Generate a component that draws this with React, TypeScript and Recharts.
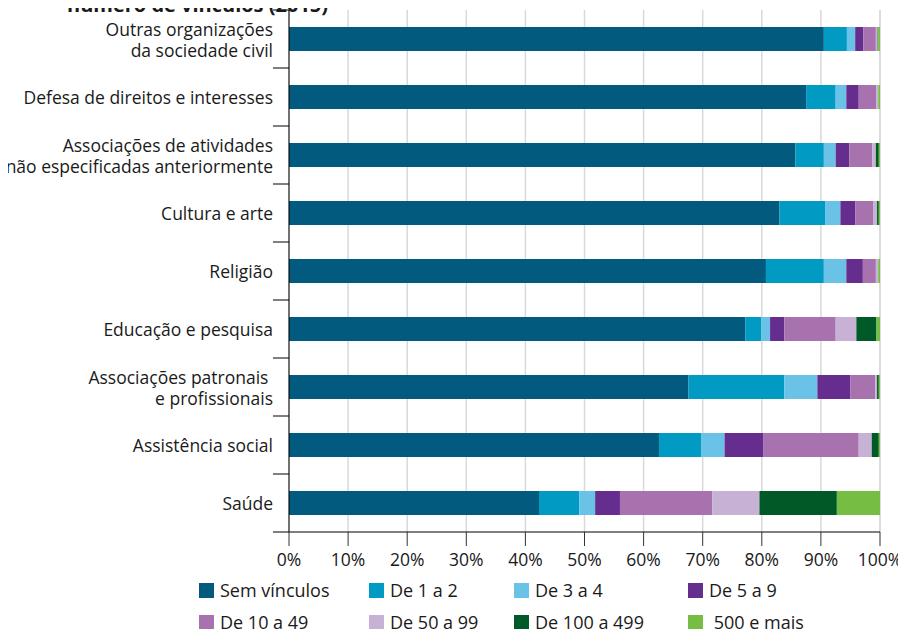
import { Bar, BarChart, CartesianGrid, XAxis, YAxis } from "recharts";

const categories = [
  "Outras organizações\nda sociedade civil",
  "Defesa de direitos e interesses",
  "Associações de atividades\nnão especificadas anteriormente",
  "Cultura e arte",
  "Religião",
  "Educação e pesquisa",
  "Associações patronais \ne profissionais",
  "Assistência social",
  "Saúde",
];

const semVinculos = [90.5, 87.5, 85.7, 83.0, 80.7, 77.2, 67.6, 62.6, 42.3];
const de1a2 = [3.9, 5.0, 4.8, 7.7, 9.8, 2.7, 16.2, 7.2, 6.8];
const de3a4 = [1.4, 1.8, 2.0, 2.6, 3.8, 1.5, 5.6, 3.9, 2.7];
const de5a9 = [1.4, 2.1, 2.3, 2.5, 2.8, 2.4, 5.6, 6.6, 4.2];
const de10a49 = [2.1, 3.0, 3.9, 3.1, 2.2, 8.7, 4.2, 16.1, 15.6];
const de50a99 = [0.3, 0.3, 0.6, 0.6, 0.4, 3.5, 0.3, 2.2, 8.0];
const de100a499 = [0.1, 0.0, 0.5, 0.3, 0.0, 3.4, 0.3, 1.2, 13.1];
const de500mais = [0.3, 0.3, 0.2, 0.2, 0.3, 0.6, 0.2, 0.2, 7.3];

const xTicks = [0, 10, 20, 30, 40, 50, 60, 70, 80, 90, 100];

const series = [
  { key: "sem", name: "Sem vínculos", values: semVinculos, color: "#025B7E" },
  { key: "d1", name: "De 1 a 2", values: de1a2, color: "#009AC3" },
  { key: "d3", name: "De 3 a 4", values: de3a4, color: "#6AC3E6" },
  { key: "d5", name: "De 5 a 9", values: de5a9, color: "#652D8E" },
  { key: "d10", name: "De 10 a 49", values: de10a49, color: "#A872AF" },
  { key: "d50", name: "De 50 a 99", values: de50a99, color: "#C7B1D5" },
  { key: "d100", name: "De 100 a 499", values: de100a499, color: "#005A27" },
  { key: "d500", name: " 500 e mais", values: de500mais, color: "#76BE43" },
];

const data = categories.map((name, i) => {
  const row: Record<string, string | number> = { name };
  series.forEach((s) => {
    row[s.key] = s.values[i];
  });
  return row;
});

const FONT = "'Open Sans', sans-serif";
const TOP = 10;
const CHART_H = 575;
const X_AXIS_H = 43;
const BAND = (CHART_H - TOP - X_AXIS_H) / categories.length;
const LINE_GAP = 21;
const LEGEND_COLS = [199, 369, 514, 688];
const LEGEND_ROWS = [590, 622];

// category label plus the short tick at each band boundary
function CategoryTick(props: any) {
  const { x, y, payload, index } = props;
  const lines = String(payload.value).split("\n");
  const half = BAND / 2;
  const firstY = y - ((lines.length - 1) / 2) * LINE_GAP;
  return (
    <g>
      <line x1={x} x2={x + 16} y1={y - half} y2={y - half} stroke="#000" strokeWidth={1} />
      {index === categories.length - 1 && (
        <line x1={x} x2={x + 16} y1={y + half} y2={y + half} stroke="#000" strokeWidth={1} />
      )}
      <text
        x={x}
        y={firstY}
        textAnchor="end"
        dominantBaseline="central"
        fontSize={17.5}
        fontFamily={FONT}
        fill="#1a1a1a"
        style={{ whiteSpace: "pre" }}
      >
        {lines.map((line, i) => (
          <tspan key={i} x={x} y={firstY + i * LINE_GAP} dominantBaseline="central">
            {line}
          </tspan>
        ))}
      </text>
    </g>
  );
}

export default function App() {
  return (
    <div
      style={{
        position: "relative",
        width: 906,
        height: 637,
        margin: -8,
        background: "#fff",
        fontFamily: FONT,
      }}
    >
      <BarChart
        width={906}
        height={CHART_H}
        data={data}
        layout="vertical"
        barSize={24}
        margin={{ top: TOP, right: 26, left: 0, bottom: 0 }}
      >
        <CartesianGrid horizontal={false} stroke="#d9d9d9" strokeWidth={1.5} />
        <XAxis
          type="number"
          domain={[0, 100]}
          ticks={xTicks}
          tickFormatter={(v) => `${v}%`}
          height={X_AXIS_H}
          tickSize={14}
          tickMargin={8}
          interval={0}
          axisLine={{ stroke: "#000" }}
          tickLine={{ stroke: "#333" }}
          tick={{ fill: "#1a1a1a", fontSize: 17.5, fontFamily: FONT }}
        />
        <YAxis
          type="category"
          dataKey="name"
          width={289}
          tickSize={16}
          tickMargin={0}
          tickLine={false}
          interval={0}
          axisLine={{ stroke: "#000" }}
          tick={<CategoryTick />}
        />
        {series.map((s) => (
          <Bar key={s.key} dataKey={s.key} name={s.name} stackId="a" fill={s.color} isAnimationActive={false} />
        ))}
      </BarChart>
      <div
        style={{
          position: "absolute",
          left: 67,
          top: -7,
          zIndex: 2,
          fontSize: 20,
          lineHeight: "24px",
          fontWeight: 700,
          color: "#1a1a1a",
          whiteSpace: "nowrap",
        }}
      >
        número de vínculos (2015)
      </div>
      {series.map((s, i) => (
        <div
          key={s.key}
          style={{
            position: "absolute",
            left: LEGEND_COLS[i % 4],
            top: LEGEND_ROWS[Math.floor(i / 4)] - 10,
            height: 20,
            display: "flex",
            alignItems: "center",
            whiteSpace: "pre",
            fontSize: 18,
            lineHeight: "20px",
            color: "#1a1a1a",
          }}
        >
          <span style={{ width: 15, height: 15, background: s.color, marginRight: 6, flex: "none" }} />
          {s.name}
        </div>
      ))}
    </div>
  );
}
